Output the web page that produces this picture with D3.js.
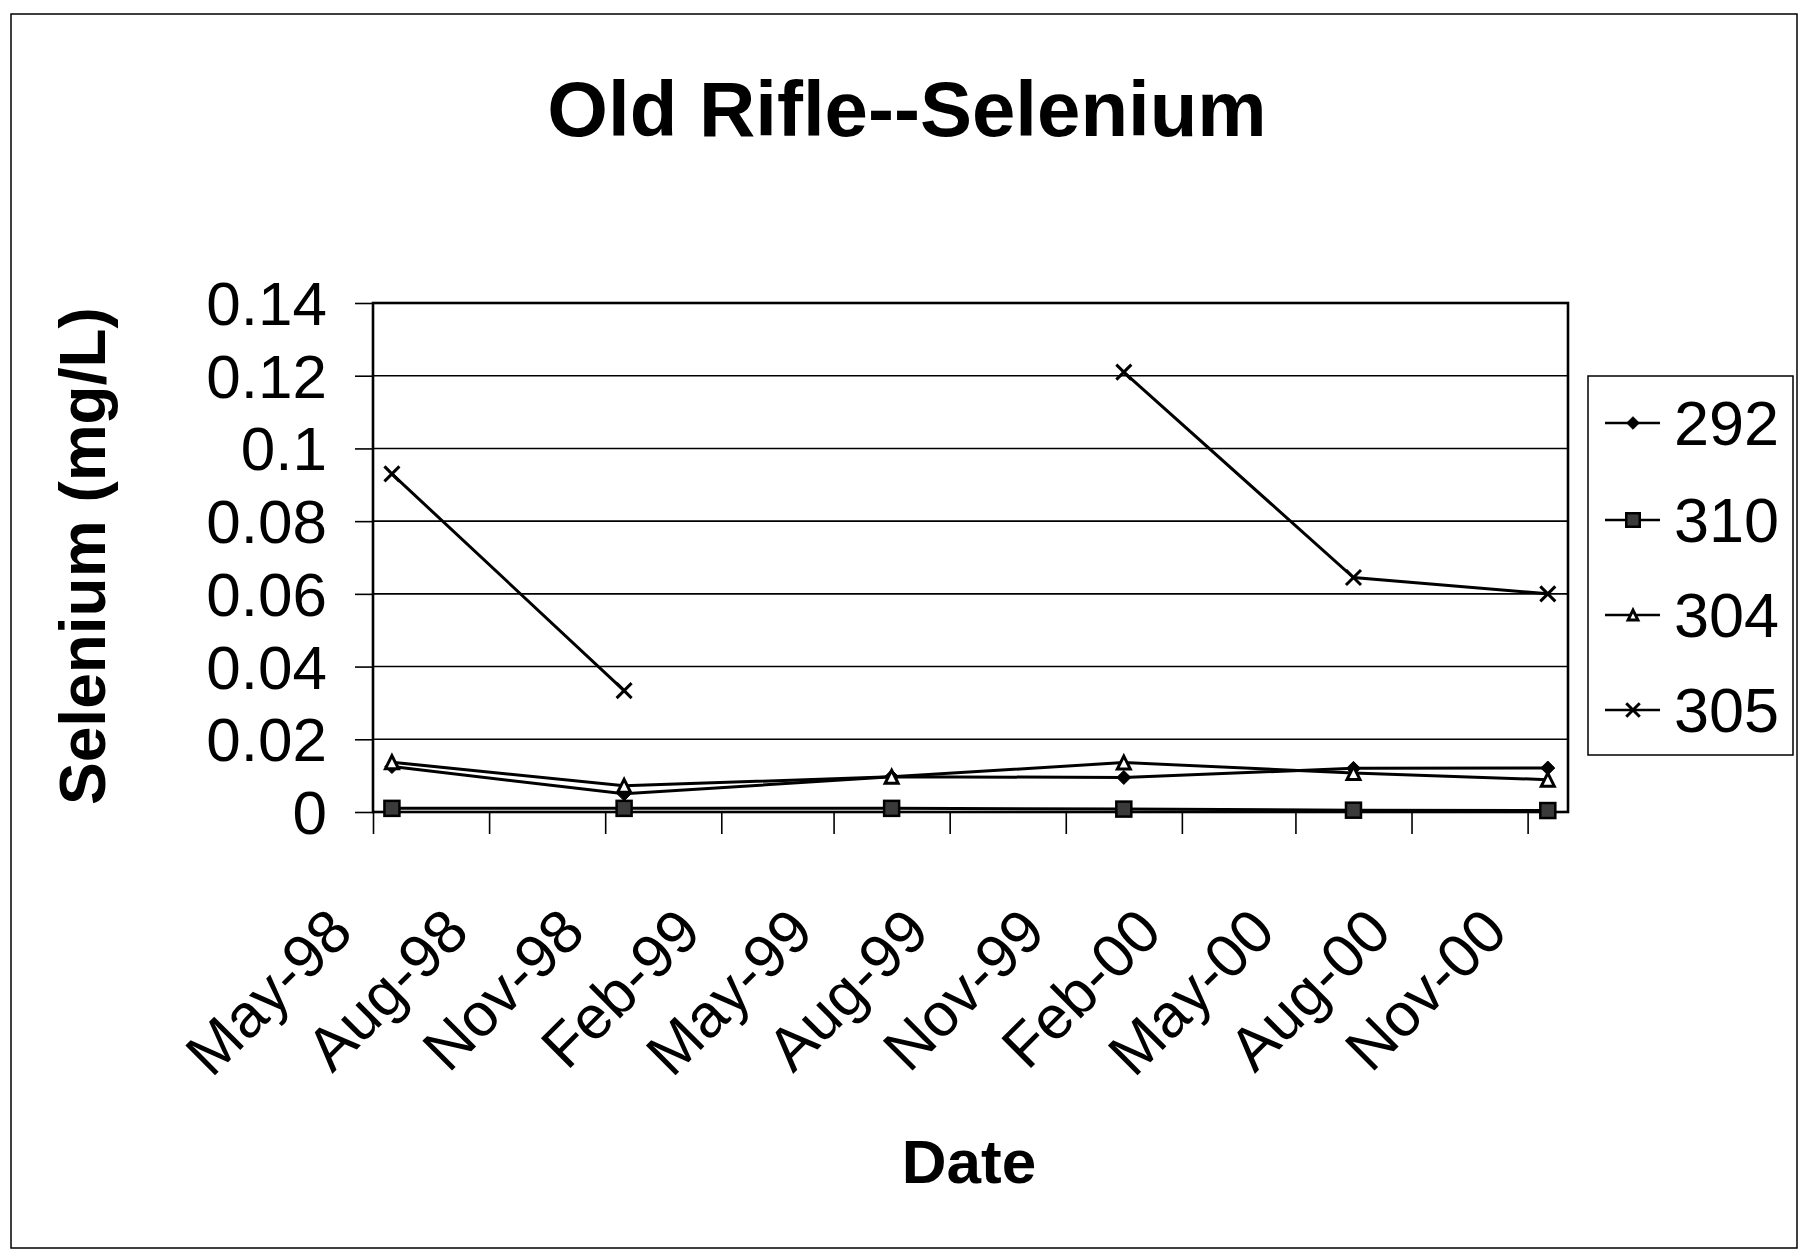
<!DOCTYPE html>
<html>
<head>
<meta charset="utf-8">
<script src="https://cdn.jsdelivr.net/npm/d3@7"></script>
<style>
  html, body { margin: 0; padding: 0; background: #fff; }
  svg { display: block; }
  text { font-family: "Liberation Sans", Arial, sans-serif; fill: #000; }
</style>
</head>
<body>
<svg id="chart" width="1809" height="1256"></svg>
<script>
// ---- data ----
const sampleDates = ["1998-05-16", "1998-11-16", "1999-06-16", "1999-12-17", "2000-06-16", "2000-11-17"];
const seriesNames = ["292", "310", "304", "305"];
const s292 = [0.0125, 0.005, 0.0097, 0.0095, 0.012, 0.0121];
const s310 = [0.001, 0.001, 0.001, 0.0008, 0.0005, 0.0004];
const s304 = [0.0137, 0.0072, 0.0097, 0.0136, 0.0107, 0.0089];
const s305 = [0.093, 0.0334, null, 0.121, 0.0645, 0.060];
const yTickValues = [0, 0.02, 0.04, 0.06, 0.08, 0.1, 0.12, 0.14];
const yTickLabels = ["0", "0.02", "0.04", "0.06", "0.08", "0.1", "0.12", "0.14"];
const xTickLabels = ["May-98", "Aug-98", "Nov-98", "Feb-99", "May-99", "Aug-99", "Nov-99", "Feb-00", "May-00", "Aug-00", "Nov-00"];
const xDomain = ["1998-05-01", "2000-12-03"];

// ---- layout ----
const svg = d3.select("#chart");
const L = 373, R = 1568, T = 303, B = 812;
const parseISO = d3.timeParse("%Y-%m-%d");
const parseTick = d3.timeParse("%b-%y");

const x = d3.scaleTime().domain(xDomain.map(parseISO)).range([L, R]);
const y = d3.scaleLinear().domain([0, 0.14]).range([B, T]);

// outer border
svg.append("rect").attr("x", 11).attr("y", 14).attr("width", 1786).attr("height", 1234)
  .attr("fill", "none").attr("stroke", "#000").attr("stroke-width", 1.5);

// title
svg.append("text").attr("x", 907).attr("y", 136).attr("text-anchor", "middle")
  .attr("font-size", 78).attr("font-weight", "bold").text("Old Rifle--Selenium");

// gridlines
svg.append("g").selectAll("line").data(yTickValues.filter(v => v > 0 && v < 0.14)).join("line")
  .attr("x1", L).attr("x2", R).attr("y1", d => y(d)).attr("y2", d => y(d))
  .attr("stroke", "#000").attr("stroke-width", 1.6);

// plot border
svg.append("rect").attr("x", L).attr("y", T).attr("width", R - L).attr("height", B - T)
  .attr("fill", "none").attr("stroke", "#000").attr("stroke-width", 2.6);

// y axis
const yAxis = d3.axisLeft(y).tickValues(yTickValues).tickSize(18).tickPadding(28)
  .tickFormat((d, i) => yTickLabels[i]);
const gy = svg.append("g").attr("transform", `translate(${L},0)`).call(yAxis);
gy.select(".domain").remove();
gy.selectAll(".tick line").attr("stroke", "#000").attr("stroke-width", 1.6);
gy.selectAll(".tick text").attr("font-size", 62).attr("font-family", "Liberation Sans, Arial, sans-serif")
  .attr("fill", "#000").attr("dy", null).attr("dominant-baseline", "central");

// x axis
const xTickDates = xTickLabels.map(parseTick);
const xAxis = d3.axisBottom(x).tickValues(xTickDates).tickSize(22)
  .tickFormat((d, i) => xTickLabels[i]);
const gx = svg.append("g").attr("transform", `translate(0,${B})`).call(xAxis);
gx.select(".domain").remove();
gx.selectAll(".tick line").attr("stroke", "#000").attr("stroke-width", 1.6);
gx.selectAll(".tick text").attr("font-size", 61).attr("font-family", "Liberation Sans, Arial, sans-serif")
  .attr("fill", "#000").attr("y", 0).attr("dy", null).attr("text-anchor", "end")
  .attr("dominant-baseline", "central")
  .attr("transform", "translate(-33,108) rotate(-45)");

// axis titles
svg.append("text").attr("x", 969).attr("y", 1183).attr("text-anchor", "middle")
  .attr("font-size", 62).attr("font-weight", "bold").text("Date");
svg.append("text").attr("transform", "translate(83,556) rotate(-90)").attr("text-anchor", "middle")
  .attr("dominant-baseline", "central")
  .attr("font-size", 64).attr("font-weight", "bold").text("Selenium (mg/L)");

// series
const dates = sampleDates.map(parseISO);
const series = [
  { name: "292", values: s292, marker: "diamond" },
  { name: "310", values: s310, marker: "square" },
  { name: "304", values: s304, marker: "triangle" },
  { name: "305", values: s305, marker: "cross" }
];

const line = d3.line().defined(d => d.v !== null).x(d => x(d.date)).y(d => y(d.v));

function drawMarker(g, type, cx, cy, scale) {
  const s = scale || 1;
  if (type === "diamond") {
    const r = 7 * s;
    g.append("path").attr("d", `M${cx},${cy - r}L${cx + r},${cy}L${cx},${cy + r}L${cx - r},${cy}Z`)
      .attr("fill", "#000").attr("stroke", "#000").attr("stroke-width", 1);
  } else if (type === "square") {
    const h = 7.5 * s;
    g.append("rect").attr("x", cx - h).attr("y", cy - h).attr("width", 2 * h).attr("height", 2 * h)
      .attr("fill", "#3a3a3a").attr("stroke", "#000").attr("stroke-width", 2.5);
  } else if (type === "triangle") {
    const h = 6.5 * s;
    g.append("path").attr("d", `M${cx},${cy - h}L${cx + h},${cy + h}L${cx - h},${cy + h}Z`)
      .attr("fill", "#fff").attr("stroke", "#000").attr("stroke-width", 3).attr("stroke-linejoin", "miter");
  } else if (type === "cross") {
    const h = 7.5 * s;
    g.append("path").attr("d", `M${cx - h},${cy - h}L${cx + h},${cy + h}M${cx - h},${cy + h}L${cx + h},${cy - h}`)
      .attr("stroke", "#000").attr("stroke-width", 3).attr("fill", "none");
  }
}

const gs = svg.append("g");
series.forEach(s => {
  const pts = dates.map((d, i) => ({ date: d, v: s.values[i] }));
  gs.append("path").datum(pts).attr("d", line).attr("fill", "none")
    .attr("stroke", "#000").attr("stroke-width", 3);
});
series.forEach(s => {
  const g = gs.append("g");
  dates.forEach((d, i) => {
    if (s.values[i] !== null) drawMarker(g, s.marker, x(d), y(s.values[i]), 1);
  });
});

// legend
const legRows = [423, 520, 615, 710];
const lg = svg.append("g");
lg.append("rect").attr("x", 1588).attr("y", 376).attr("width", 205).attr("height", 379)
  .attr("fill", "#fff").attr("stroke", "#000").attr("stroke-width", 1.5);
series.forEach((s, i) => {
  const yy = legRows[i];
  lg.append("line").attr("x1", 1605).attr("x2", 1660).attr("y1", yy).attr("y2", yy)
    .attr("stroke", "#000").attr("stroke-width", 2.5);
  drawMarker(lg, s.marker, 1633, yy, s.marker === "triangle" ? 0.75 : 0.9);
  lg.append("text").attr("x", 1674).attr("y", yy).attr("dominant-baseline", "central")
    .attr("font-size", 63).text(s.name);
});
</script>
</body>
</html>
